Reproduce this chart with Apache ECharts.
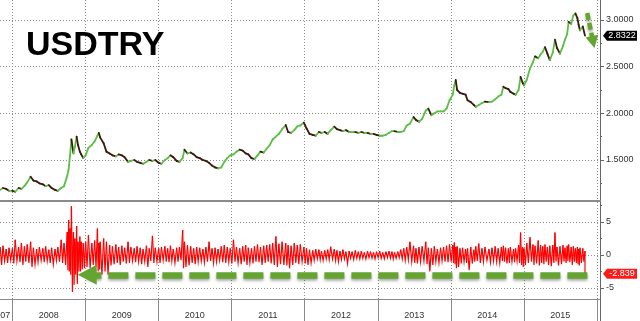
<!DOCTYPE html>
<html>
<head>
<meta charset="utf-8">
<script src="https://cdn.jsdelivr.net/npm/echarts@6/dist/echarts.min.js"></script>
<style>html,body{margin:0;padding:0;background:#fff}#c{width:640px;height:321px}</style>
</head>
<body>
<div id="c"></div>
<script>
// ---------------- data ----------------
const title = 'USDTRY';
const dates = [
'2007-11-01','2007-11-15','2007-12-01','2007-12-15',
'2008-01-01','2008-01-15','2008-02-01','2008-02-15','2008-03-01','2008-03-15','2008-04-01','2008-04-15','2008-05-01','2008-05-15','2008-06-01','2008-06-15','2008-07-01','2008-07-15','2008-08-01','2008-08-15','2008-09-01','2008-09-15','2008-10-01','2008-10-08','2008-10-15','2008-10-22','2008-11-01','2008-11-08','2008-11-17','2008-11-24','2008-12-03','2008-12-10','2008-12-20',
'2009-01-01','2009-01-15','2009-02-01','2009-02-15','2009-03-01','2009-03-08','2009-03-15','2009-04-01','2009-04-15','2009-05-01','2009-05-15','2009-06-01','2009-06-15','2009-07-01','2009-07-15','2009-08-01','2009-08-15','2009-09-01','2009-09-15','2009-10-01','2009-10-15','2009-11-01','2009-11-15','2009-12-01','2009-12-15',
'2010-01-01','2010-01-15','2010-02-01','2010-02-15','2010-03-01','2010-03-15','2010-04-01','2010-04-15','2010-05-01','2010-05-10','2010-05-25','2010-06-10','2010-06-25','2010-07-10','2010-07-25','2010-08-10','2010-08-25','2010-09-10','2010-09-25','2010-10-10','2010-10-25','2010-11-10','2010-11-25','2010-12-10','2010-12-25',
'2011-01-10','2011-01-25','2011-02-10','2011-02-25','2011-03-12','2011-03-25','2011-04-10','2011-04-25','2011-05-10','2011-05-25','2011-06-10','2011-06-25','2011-07-10','2011-07-25','2011-08-10','2011-08-25','2011-09-10','2011-09-28','2011-10-10','2011-10-25','2011-11-10','2011-11-25','2011-12-10','2011-12-28',
'2012-01-10','2012-01-25','2012-02-10','2012-02-25','2012-03-12','2012-03-25','2012-04-10','2012-04-25','2012-05-10','2012-05-28','2012-06-10','2012-06-25','2012-07-10','2012-07-25','2012-08-10','2012-08-25','2012-09-10','2012-09-25','2012-10-10','2012-10-25','2012-11-10','2012-11-25','2012-12-10','2012-12-25',
'2013-01-10','2013-01-25','2013-02-10','2013-02-25','2013-03-12','2013-03-25','2013-04-10','2013-04-25','2013-05-10','2013-05-25','2013-06-10','2013-06-28','2013-07-10','2013-07-25','2013-08-10','2013-08-28','2013-09-10','2013-09-25','2013-10-10','2013-10-25','2013-11-10','2013-11-25','2013-12-10','2013-12-25',
'2014-01-10','2014-01-18','2014-01-25','2014-02-01','2014-02-15','2014-02-28','2014-03-15','2014-03-25','2014-04-10','2014-04-25','2014-05-05','2014-05-20','2014-06-05','2014-06-20','2014-07-10','2014-07-25','2014-08-10','2014-08-25','2014-09-10','2014-09-20','2014-10-01','2014-10-15','2014-10-25','2014-11-10','2014-11-20','2014-12-05','2014-12-15','2014-12-25',
'2015-01-01','2015-01-15','2015-01-31','2015-02-15','2015-02-25','2015-03-13','2015-03-25','2015-04-05','2015-04-16','2015-04-28','2015-05-10','2015-05-25','2015-06-05','2015-06-15','2015-06-30','2015-07-15','2015-07-25','2015-08-05','2015-08-12','2015-08-25','2015-09-05','2015-09-15','2015-09-25','2015-10-01','2015-10-08','2015-10-22','2015-11-02'
];
const price = [
1.18,1.20,1.19,1.17,
1.17,1.16,1.20,1.19,1.22,1.26,1.32,1.28,1.27,1.25,1.24,1.22,1.23,1.20,1.18,1.17,1.20,1.22,1.33,1.40,1.55,1.72,1.57,1.64,1.75,1.66,1.59,1.56,1.52,
1.55,1.63,1.66,1.70,1.76,1.79,1.74,1.68,1.59,1.57,1.55,1.54,1.56,1.55,1.53,1.48,1.49,1.50,1.48,1.47,1.46,1.48,1.50,1.49,1.50,
1.47,1.46,1.50,1.52,1.55,1.53,1.49,1.48,1.52,1.61,1.57,1.58,1.56,1.53,1.52,1.50,1.49,1.47,1.44,1.42,1.41,1.42,1.48,1.52,1.55,
1.56,1.59,1.61,1.60,1.57,1.56,1.52,1.51,1.55,1.59,1.58,1.62,1.66,1.72,1.75,1.78,1.83,1.875,1.80,1.79,1.82,1.86,1.87,1.90,
1.84,1.78,1.77,1.76,1.80,1.79,1.80,1.78,1.82,1.857,1.83,1.82,1.81,1.82,1.80,1.80,1.80,1.79,1.80,1.79,1.79,1.78,1.78,1.77,
1.76,1.76,1.77,1.79,1.81,1.81,1.80,1.80,1.81,1.87,1.89,1.96,1.93,1.91,1.94,2.03,2.05,1.98,2.00,2.02,2.02,2.02,2.05,2.14,
2.20,2.30,2.357,2.25,2.22,2.21,2.20,2.14,2.12,2.09,2.07,2.09,2.11,2.125,2.12,2.125,2.15,2.18,2.20,2.286,2.27,2.26,2.23,2.21,2.20,2.25,2.39,2.33,
2.30,2.36,2.48,2.55,2.61,2.59,2.63,2.66,2.71,2.64,2.57,2.65,2.79,2.70,2.64,2.72,2.79,2.85,2.98,2.96,3.05,3.07,3.02,2.95,2.89,2.93,2.8322
];
// daily % change, highest and lowest value seen in each period
const chgHigh = [
1.2,1.4,0.9,1.1,
1.0,2.3,1.2,1.8,1.3,1.6,2.0,1.1,0.9,1.2,1.0,1.3,0.8,1.1,0.9,1.2,2.3,1.8,3.5,5.3,4.0,7.4,3.5,2.5,4.4,2.0,2.8,2.0,1.8,
2.0,3.0,1.8,2.2,4.0,1.8,2.0,2.5,2.0,1.5,1.3,1.6,1.2,1.4,1.1,2.0,1.2,1.0,1.3,1.1,0.9,1.4,1.0,2.9,1.1,
1.0,1.2,1.3,1.0,1.4,0.9,1.1,1.2,3.8,2.0,1.5,1.3,1.0,1.2,1.1,0.9,1.2,2.0,1.0,1.1,0.9,1.3,1.5,1.2,1.0,
2.3,1.2,1.0,1.3,1.5,1.1,1.0,1.3,1.6,1.2,1.4,1.5,1.6,1.8,2.8,1.7,2.0,1.8,1.5,1.4,1.8,1.5,1.6,1.2,
1.0,0.8,0.7,0.9,0.8,0.6,0.7,0.8,1.25,0.9,0.7,0.6,0.8,0.5,0.6,0.5,0.7,0.5,0.6,0.4,0.6,0.5,0.4,0.5,
0.6,0.4,0.5,0.6,0.5,0.4,0.5,0.8,1.0,1.2,2.0,1.4,1.0,1.2,1.3,2.0,1.1,1.0,1.3,0.9,1.1,1.2,1.4,1.6,
1.5,1.9,1.2,1.3,1.0,1.1,0.9,1.0,1.2,0.8,1.3,1.75,1.0,1.2,0.9,1.1,1.3,1.0,1.2,1.4,1.1,1.0,1.2,0.9,1.0,1.5,3.4,1.2,
1.0,1.8,2.7,1.6,1.4,2.2,1.5,1.3,1.6,1.2,1.4,1.5,3.4,1.2,1.3,1.5,1.1,1.4,1.6,1.2,1.3,1.0,1.2,0.9,1.1,1.0,0.6
];
const chgLow = [
-1.5,-0.9,-1.2,-0.8,
-1.3,-0.9,-1.1,-1.5,-1.0,-1.2,-1.8,-1.4,-1.0,-0.8,-1.1,-0.9,-1.2,-1.4,-0.8,-1.0,-1.2,-1.5,-2.3,-2.5,-3.0,-5.6,-4.5,-3.0,-4.4,-2.5,-2.5,-2.2,-2.0,
-1.8,-2.0,-1.5,-1.8,-2.5,-2.2,-3.0,-2.5,-3.0,-1.6,-1.4,-1.2,-1.5,-1.0,-1.3,-1.2,-0.9,-1.1,-1.0,-1.4,-1.0,-1.8,-0.9,-1.2,-1.0,
-1.2,-0.8,-1.0,-1.1,-0.9,-1.2,-1.0,-0.8,-2.0,-1.8,-1.6,-1.2,-1.4,-1.0,-0.9,-1.1,-1.0,-0.9,-1.2,-1.0,-0.8,-1.1,-1.2,-1.0,-1.3,
-1.0,-1.2,-1.4,-1.0,-1.5,-1.2,-1.3,-1.0,-1.1,-1.5,-1.2,-1.0,-1.3,-1.5,-1.8,-1.4,-1.5,-1.6,-2.0,-1.5,-1.2,-1.4,-1.0,-1.3,
-1.5,-1.2,-0.8,-0.6,-0.7,-0.8,-0.6,-0.7,-0.6,-0.8,-1.0,-0.7,-0.6,-1.3,-0.5,-0.7,-0.5,-0.6,-0.5,-0.6,-0.4,-0.5,-0.6,-0.4,
-0.5,-0.6,-0.4,-0.5,-0.6,-0.5,-0.4,-0.6,-0.8,-0.7,-1.0,-1.2,-1.3,-1.0,-0.9,-1.4,-2.5,-1.5,-1.0,-1.2,-0.9,-1.0,-1.1,-1.0,
-1.2,-1.4,-2.0,-1.8,-1.3,-1.0,-1.2,-2.3,-1.3,-1.0,-0.9,-1.2,-1.0,-0.8,-1.1,-0.9,-1.0,-1.2,-0.9,-1.0,-1.3,-1.2,-1.0,-1.1,-0.9,-1.2,-1.5,-1.8,
-1.5,-1.2,-1.0,-1.5,-1.3,-1.6,-1.2,-1.4,-1.0,-1.5,-1.7,-1.2,-1.0,-1.6,-1.4,-1.0,-1.2,-0.9,-1.1,-1.5,-1.0,-1.2,-1.4,-1.6,-1.2,-1.0,-2.839
];
const priceTicks = [1.5, 2.0, 2.5, 3.0];
const priceMinorTicks = [1.25, 1.75, 2.25, 2.75];
const changeTicks = [-5, 0, 5];
const changeMinorTicks = [-2.5, 2.5, 7.5];
const yearTicks = ['2008-01-01','2009-01-01','2010-01-01','2011-01-01','2012-01-01','2013-01-01','2014-01-01','2015-01-01','2016-01-01'];
const yearLabelDates = ['2007-11-01','2008-07-01','2009-07-01','2010-07-01','2011-07-01','2012-07-01','2013-07-01','2014-07-01','2015-07-01'];
const quarterTicks = [
'2008-04-01','2008-07-01','2008-10-01','2009-04-01','2009-07-01','2009-10-01','2010-04-01','2010-07-01','2010-10-01',
'2011-04-01','2011-07-01','2011-10-01','2012-04-01','2012-07-01','2012-10-01','2013-04-01','2013-07-01','2013-10-01',
'2014-04-01','2014-07-01','2014-10-01','2015-04-01','2015-07-01','2015-10-01'];
// annotation arrows (data space)
const trendArrow = [['2015-11-13', 3.075], ['2015-12-13', 2.764]];
const changeArrow = [['2015-11-14', -3.0], ['2009-01-09', -3.0]];

// ---------------- chart ----------------
const T = s => new Date(s + 'T00:00:00').getTime();
const xMin = T('2007-10-31'), xMax = T('2016-01-16');
const FONT = '"Liberation Sans", Arial, sans-serif';
const GR = 40;
const n = dates.length;
const lastDate = dates[n - 1];
const priceSegs = [];
for (let i = 1; i < n; i++) priceSegs.push([T(dates[i - 1]), price[i - 1], T(dates[i]), price[i]]);
// each item: this period and the start of the next one
const changeItems = dates.map((d, i) => {
  const j = Math.min(i + 1, n - 1);
  return [T(d), chgLow[i], chgHigh[i], T(dates[j]), chgHigh[j]];
});
const yearVals = yearTicks.map(T), yearLabelVals = yearLabelDates.map(T), quarterVals = quarterTicks.map(T);
const dotted = {color: '#8c8c8c', width: 1, type: [1, 2]};
const arrowStyle = {color: '#64a532', shadowColor: 'rgba(0,0,0,0.35)', shadowBlur: 3, shadowOffsetY: 2};

function tagRender(color, digits) {
  return function (params, api) {
    const y = api.coord([api.value(0), api.value(1)])[1];
    const x = params.coordSys.x + params.coordSys.width + 3;
    const w = 34, h = 10;
    return {type: 'group', children: [
      {type: 'polygon', shape: {points: [[x, y], [x + 4, y - h / 2], [x + w, y - h / 2], [x + w, y + h / 2], [x + 4, y + h / 2]]}, style: {fill: color}},
      {type: 'text', style: {text: api.value(1).toFixed(digits), x: x + 4 + (w - 4) / 2, y: y, align: 'center', verticalAlign: 'middle', fill: '#fff', font: '9px ' + FONT}}
    ]};
  };
}
const xBase = {type: 'value', min: xMin, max: xMax};
const gridBase = {left: 0, right: GR, containLabel: false, outerBoundsMode: 'none'};
const G = o => Object.assign({}, gridBase, o);

const chart = echarts.init(document.getElementById('c'));
chart.setOption({
  animation: false,
  backgroundColor: '#fff',
  title: {text: title, left: 26, top: 29, padding: 0, textStyle: {fontFamily: FONT, fontSize: 34, fontWeight: 'bold', color: '#000'}},
  grid: [
    G({top: 0, height: 201}),
    G({top: 202, height: 97}),
    G({top: 299, height: 22}),
    G({top: 0, height: 201}),
    G({top: 202, height: 97})
  ],
  xAxis: [
    Object.assign({gridIndex: 0,
      axisLine: {show: true, onZero: false, lineStyle: {color: '#8a8a8a', width: 2}},
      axisTick: {show: false, customValues: yearVals}, axisLabel: {show: false},
      splitLine: {show: true, lineStyle: dotted}}, xBase),
    Object.assign({gridIndex: 1,
      axisLine: {show: true, onZero: false, lineStyle: {color: '#8a8a8a', width: 1}},
      axisTick: {show: true, customValues: yearVals, length: 22, lineStyle: {color: '#8a8a8a'}},
      axisLabel: {show: true, customValues: yearLabelVals, formatter: v => String(new Date(v).getFullYear()), fontFamily: FONT, fontSize: 9, color: '#333', margin: 12},
      splitLine: {show: true, lineStyle: dotted}}, xBase),
    Object.assign({gridIndex: 2, position: 'top',
      axisLine: {show: false},
      axisTick: {show: true, inside: true, customValues: quarterVals, length: 3, lineStyle: {color: '#8a8a8a'}},
      axisLabel: {show: false}, splitLine: {show: false}}, xBase),
    Object.assign({gridIndex: 3, show: false}, xBase),
    Object.assign({gridIndex: 4, show: false}, xBase)
  ],
  yAxis: [
    {gridIndex: 0, type: 'value', position: 'right', min: 1.0607, max: 3.2143,
      axisLine: {show: true, lineStyle: {color: '#666', width: 1}},
      axisTick: {show: true, customValues: priceTicks, length: 4, lineStyle: {color: '#666'}},
      axisLabel: {show: true, customValues: priceTicks, formatter: v => v.toFixed(4), fontFamily: FONT, fontSize: 9, color: '#333', margin: 6},
      splitLine: {show: true, lineStyle: dotted}},
    {gridIndex: 1, type: 'value', position: 'right', min: -6.67, max: 8.03,
      axisLine: {show: true, lineStyle: {color: '#666', width: 1}},
      axisTick: {show: true, customValues: changeTicks, length: 4, lineStyle: {color: '#666'}},
      axisLabel: {show: true, customValues: changeTicks, formatter: v => String(v), fontFamily: FONT, fontSize: 9, color: '#333', margin: 6},
      splitLine: {show: true, lineStyle: dotted}},
    {gridIndex: 2, type: 'value', position: 'right', min: 0, max: 1,
      axisLine: {show: true, lineStyle: {color: '#666', width: 1}},
      axisTick: {show: false}, axisLabel: {show: false}, splitLine: {show: false}},
    {gridIndex: 3, type: 'value', position: 'right', min: 1.0607, max: 3.2143,
      axisLine: {show: false},
      axisTick: {show: true, customValues: priceMinorTicks, length: 2, lineStyle: {color: '#666'}},
      axisLabel: {show: false}, splitLine: {show: false}},
    {gridIndex: 4, type: 'value', position: 'right', min: -6.67, max: 8.03,
      axisLine: {show: false},
      axisTick: {show: true, customValues: changeMinorTicks, length: 2, lineStyle: {color: '#666'}},
      axisLabel: {show: false}, splitLine: {show: false}}
  ],
  series: [
    {type: 'custom', name: 'price', xAxisIndex: 0, yAxisIndex: 0, data: priceSegs, encode: {x: [0, 2], y: [1, 3]}, z: 3,
      renderItem: function (params, api) {
        const p0 = api.coord([api.value(0), api.value(1)]);
        const p1 = api.coord([api.value(2), api.value(3)]);
        const up = api.value(3) >= api.value(1);
        return {type: 'line', shape: {x1: p0[0], y1: p0[1], x2: p1[0], y2: p1[1]},
          style: {stroke: up ? '#5cbf45' : '#3a1a0e', lineWidth: 1.8, lineCap: 'round'}};
      }},
    {type: 'custom', name: 'change', xAxisIndex: 1, yAxisIndex: 1, data: changeItems, encode: {x: [0, 3], y: [1, 2]}, z: 3,
      renderItem: function (params, api) {
        const x0 = api.value(0), x1 = api.value(3);
        const a = api.coord([x0, api.value(2)]);
        const b = api.coord([x0, api.value(1)]);
        const c = api.coord([x1, api.value(4)]);
        const pts = [a, [(a[0] + c[0]) / 2, b[1]]];
        if (x1 > x0) pts.push(c);
        return {type: 'polyline', shape: {points: pts}, style: {stroke: '#ff0000', lineWidth: 1.2, fill: null}};
      }},
    {type: 'custom', xAxisIndex: 0, yAxisIndex: 0, clip: false, z: 6, silent: true,
      data: [[T(lastDate), price[n - 1]]], renderItem: tagRender('#000000', 4)},
    {type: 'custom', xAxisIndex: 1, yAxisIndex: 1, clip: false, z: 6, silent: true,
      data: [[T(lastDate), chgLow[n - 1]]], renderItem: tagRender('#ff1a1a', 3)},
    {type: 'line', xAxisIndex: 0, yAxisIndex: 0, data: [[T(lastDate), price[n - 1]]], symbol: 'none', showSymbol: false,
      lineStyle: {opacity: 0}, silent: true, z: 8,
      markLine: {silent: true, animation: false, symbol: ['none', 'triangle'], symbolSize: [13, 12], label: {show: false},
        lineStyle: Object.assign({width: 4.5, type: [7, 3]}, arrowStyle), emphasis: {disabled: true},
        data: [[{coord: [T(trendArrow[0][0]), trendArrow[0][1]]}, {coord: [T(trendArrow[1][0]), trendArrow[1][1]]}]]}},
    {type: 'line', xAxisIndex: 1, yAxisIndex: 1, data: [[T(lastDate), chgLow[n - 1]]], symbol: 'none', showSymbol: false,
      lineStyle: {opacity: 0}, silent: true, z: 8,
      markLine: {silent: true, animation: false, symbol: ['none', 'triangle'], symbolSize: [20, 19], label: {show: false},
        lineStyle: Object.assign({width: 6.5, type: [20, 7]}, arrowStyle), emphasis: {disabled: true},
        data: [[{coord: [T(changeArrow[0][0]), changeArrow[0][1]]}, {coord: [T(changeArrow[1][0]), changeArrow[1][1]]}]]}}
  ]
});
</script>
</body>
</html>
